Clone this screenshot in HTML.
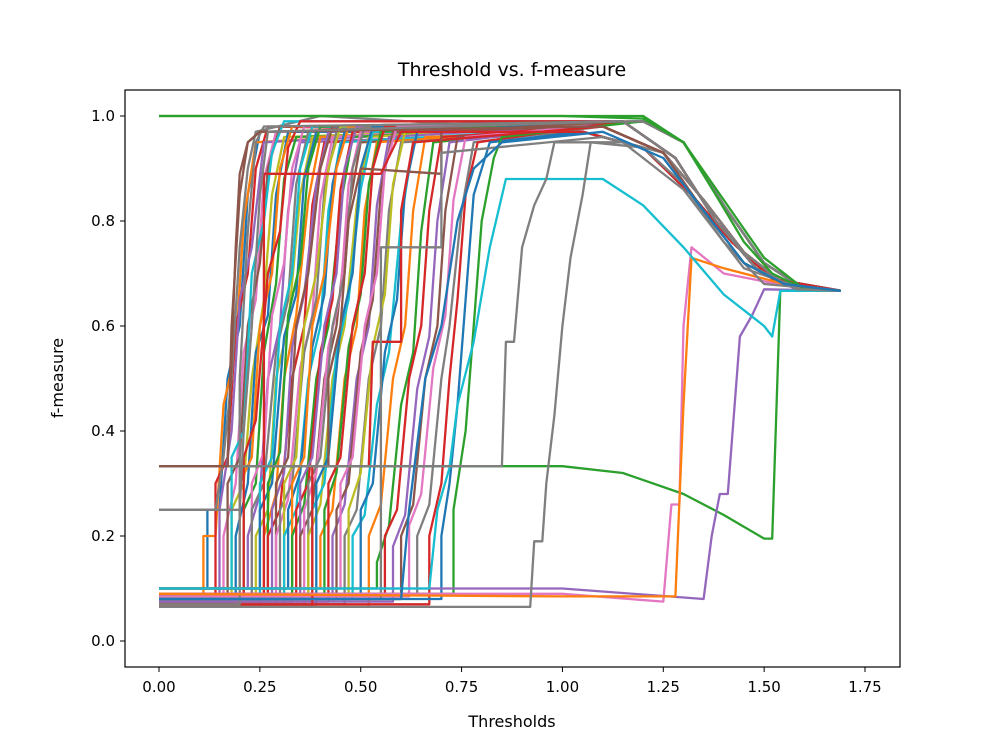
<!DOCTYPE html>
<html><head><meta charset="utf-8"><style>
body{margin:0;background:#fff;font-family:"Liberation Sans","DejaVu Sans",sans-serif}
svg text{font-family:"DejaVu Sans","Liberation Sans",sans-serif}
</style></head><body>
<svg id="chart" width="1000" height="750" viewBox="0 0 1000 750" xmlns="http://www.w3.org/2000/svg">
<rect width="1000" height="750" fill="#fff"/>
<text x="512" y="76" font-size="19" text-anchor="middle">Threshold vs. f-measure</text>
<g id="lines"></g>
<rect x="125" y="90" width="775" height="577" fill="none" stroke="#000" stroke-width="1.2"/>
<g id="xticks"></g>
<g id="yticks"></g>
<text x="512" y="727" font-size="16" text-anchor="middle">Thresholds</text>
<text transform="translate(63,378) rotate(-90)" font-size="16" text-anchor="middle">f-measure</text>
</svg>
<script>
const xTickValues=[0,0.25,0.5,0.75,1.0,1.25,1.5,1.75];
const xTickLabels=["0.00","0.25","0.50","0.75","1.00","1.25","1.50","1.75"];
const yTickValues=[0,0.2,0.4,0.6,0.8,1.0];
const yTickLabels=["0.0","0.2","0.4","0.6","0.8","1.0"];
const colors=["#1f77b4","#ff7f0e","#2ca02c","#d62728","#9467bd","#8c564b","#e377c2","#7f7f7f","#bcbd22","#17becf"];
// dense group: pairs of x,y
const densePoints=[
[0,0.1,0.12,0.1,0.12,0.25,0.15,0.25,0.17,0.5,0.2,0.6,0.22,0.85,0.25,0.97,1.1,0.98,1.25,0.93,1.35,0.84,1.45,0.74,1.55,0.68,1.69,0.667],
[0,0.09,0.11,0.09,0.11,0.2,0.14,0.2,0.16,0.45,0.19,0.55,0.21,0.8,0.24,0.95,1.15,0.99,1.28,0.92,1.38,0.8,1.48,0.71,1.58,0.67,1.69,0.667],
[0,0.08,0.14,0.08,0.14,0.3,0.17,0.35,0.19,0.6,0.22,0.7,0.24,0.9,0.27,0.98,1.05,0.97,1.2,0.94,1.32,0.85,1.42,0.76,1.52,0.69,1.69,0.667],
[0,0.085,0.15,0.085,0.15,0.25,0.18,0.4,0.2,0.65,0.23,0.75,0.26,0.95,1.2,0.99,1.3,0.95,1.4,0.83,1.5,0.72,1.6,0.67,1.69,0.667],
[0,0.333,0.17,0.333,0.18,0.6,0.2,0.85,0.22,0.95,0.25,0.97,1.1,0.98,1.25,0.93,1.35,0.84,1.45,0.74,1.55,0.68,1.69,0.667],
[0,0.09,0.16,0.09,0.16,0.2,0.19,0.3,0.21,0.55,0.24,0.65,0.26,0.88,0.29,0.97,1.15,0.99,1.28,0.92,1.38,0.8,1.48,0.71,1.58,0.67,1.69,0.667],
[0,0.25,0.14,0.25,0.16,0.35,0.18,0.5,0.2,0.75,0.22,0.9,0.24,0.97,0.4,1.0,1.05,0.97,1.2,0.94,1.32,0.85,1.42,0.76,1.52,0.69,1.69,0.667],
[0,0.07,0.17,0.07,0.17,0.3,0.2,0.35,0.22,0.6,0.25,0.72,0.27,0.9,0.3,0.98,1.2,0.99,1.3,0.95,1.4,0.83,1.5,0.72,1.6,0.67,1.69,0.667],
[0,0.065,0.18,0.065,0.18,0.25,0.21,0.3,0.23,0.5,0.26,0.65,0.28,0.85,0.31,0.96,1.1,0.98,1.25,0.93,1.35,0.84,1.45,0.74,1.55,0.68,1.69,0.667],
[0,0.1,0.18,0.1,0.18,0.35,0.21,0.4,0.23,0.7,0.26,0.8,0.28,0.93,0.31,0.99,1.15,0.99,1.28,0.92,1.38,0.8,1.48,0.71,1.58,0.67,1.69,0.667],
[0,0.075,0.19,0.075,0.19,0.2,0.22,0.3,0.24,0.55,0.27,0.62,0.29,0.85,0.32,0.97,1.05,0.97,1.2,0.94,1.32,0.85,1.42,0.76,1.52,0.69,1.69,0.667],
[0,0.09,0.2,0.09,0.2,0.3,0.23,0.35,0.25,0.6,0.28,0.7,0.3,0.9,0.33,0.98,1.2,0.99,1.3,0.95,1.4,0.83,1.5,0.72,1.6,0.67,1.69,0.667],
[0,0.08,0.21,0.08,0.21,0.25,0.24,0.3,0.26,0.55,0.29,0.68,0.31,0.88,0.34,0.96,1.1,0.98,1.25,0.93,1.35,0.84,1.45,0.74,1.55,0.68,1.69,0.667],
[0,0.085,0.21,0.085,0.21,0.35,0.24,0.42,0.27,0.7,0.3,0.78,0.32,0.94,0.35,0.99,1.15,0.99,1.28,0.92,1.38,0.8,1.48,0.71,1.58,0.67,1.69,0.667],
[0,0.1,0.22,0.1,0.22,0.2,0.25,0.28,0.27,0.5,0.3,0.6,0.32,0.82,0.35,0.95,1.05,0.97,1.2,0.94,1.32,0.85,1.42,0.76,1.52,0.69,1.69,0.667],
[0,0.07,0.23,0.07,0.23,0.3,0.26,0.36,0.28,0.62,0.31,0.72,0.33,0.9,0.36,0.98,1.2,0.99,1.3,0.95,1.4,0.83,1.5,0.72,1.6,0.67,1.69,0.667],
[0,0.09,0.23,0.09,0.23,0.25,0.26,0.3,0.29,0.55,0.32,0.65,0.34,0.87,0.37,0.97,1.1,0.98,1.25,0.93,1.35,0.84,1.45,0.74,1.55,0.68,1.69,0.667],
[0,0.08,0.24,0.08,0.24,0.2,0.27,0.25,0.29,0.5,0.32,0.6,0.35,0.85,0.38,0.96,1.15,0.99,1.28,0.92,1.38,0.8,1.48,0.71,1.58,0.67,1.69,0.667],
[0,0.065,0.25,0.065,0.25,0.3,0.28,0.35,0.3,0.6,0.33,0.7,0.35,0.9,0.38,0.98,1.05,0.97,1.2,0.94,1.32,0.85,1.42,0.76,1.52,0.69,1.69,0.667],
[0,0.1,0.25,0.1,0.25,0.25,0.28,0.3,0.31,0.58,0.34,0.66,0.36,0.88,0.39,0.97,1.2,0.99,1.3,0.95,1.4,0.83,1.5,0.72,1.6,0.67,1.69,0.667],
[0,0.075,0.26,0.075,0.26,0.2,0.29,0.28,0.31,0.5,0.34,0.62,0.37,0.84,0.4,0.96,1.1,0.98,1.25,0.93,1.35,0.84,1.45,0.74,1.55,0.68,1.69,0.667],
[0,0.09,0.27,0.09,0.27,0.3,0.3,0.36,0.32,0.62,0.35,0.72,0.37,0.9,0.4,0.98,1.15,0.99,1.28,0.92,1.38,0.8,1.48,0.71,1.58,0.67,1.69,0.667],
[0,0.085,0.27,0.085,0.27,0.2,0.3,0.25,0.33,0.5,0.36,0.6,0.38,0.83,0.41,0.95,1.05,0.97,1.2,0.94,1.32,0.85,1.42,0.76,1.52,0.69,1.69,0.667],
[0,0.08,0.28,0.08,0.28,0.25,0.31,0.32,0.33,0.56,0.36,0.66,0.39,0.87,0.42,0.97,1.2,0.99,1.3,0.95,1.4,0.83,1.5,0.72,1.6,0.67,1.69,0.667],
[0,0.1,0.29,0.1,0.29,0.3,0.32,0.35,0.34,0.6,0.37,0.7,0.4,0.9,0.43,0.98,1.1,0.98,1.25,0.93,1.35,0.84,1.45,0.74,1.55,0.68,1.69,0.667],
[0,0.07,0.29,0.07,0.29,0.2,0.32,0.27,0.35,0.52,0.38,0.62,0.4,0.84,0.43,0.96,1.15,0.99,1.28,0.92,1.38,0.8,1.48,0.71,1.58,0.67,1.69,0.667],
[0,0.09,0.3,0.09,0.3,0.25,0.33,0.3,0.36,0.55,0.39,0.65,0.41,0.86,0.44,0.97,1.05,0.97,1.2,0.94,1.32,0.85,1.42,0.76,1.52,0.69,1.69,0.667],
[0,0.08,0.31,0.08,0.31,0.3,0.34,0.35,0.36,0.6,0.39,0.7,0.42,0.9,0.45,0.98,1.2,0.99,1.3,0.95,1.4,0.83,1.5,0.72,1.6,0.67,1.69,0.667],
[0,0.065,0.31,0.065,0.31,0.2,0.34,0.25,0.37,0.5,0.4,0.6,0.42,0.82,0.45,0.95,1.1,0.98,1.25,0.93,1.35,0.84,1.45,0.74,1.55,0.68,1.69,0.667],
[0,0.1,0.32,0.1,0.32,0.25,0.35,0.32,0.38,0.56,0.41,0.66,0.43,0.87,0.46,0.97,1.15,0.99,1.28,0.92,1.38,0.8,1.48,0.71,1.58,0.67,1.69,0.667],
[0,0.085,0.33,0.085,0.33,0.3,0.36,0.35,0.38,0.6,0.41,0.7,0.44,0.9,0.47,0.98,1.05,0.97,1.2,0.94,1.32,0.85,1.42,0.76,1.52,0.69,1.69,0.667],
[0,0.075,0.33,0.075,0.33,0.2,0.36,0.26,0.39,0.5,0.42,0.6,0.45,0.83,0.48,0.96,1.2,0.99,1.3,0.95,1.4,0.83,1.5,0.72,1.6,0.67,1.69,0.667],
[0,0.09,0.34,0.09,0.34,0.25,0.37,0.3,0.4,0.55,0.43,0.65,0.45,0.86,0.48,0.97,1.1,0.98,1.25,0.93,1.35,0.84,1.45,0.74,1.55,0.68,1.69,0.667],
[0,0.08,0.35,0.08,0.35,0.3,0.38,0.35,0.41,0.6,0.44,0.7,0.46,0.9,0.49,0.98,1.15,0.99,1.28,0.92,1.38,0.8,1.48,0.71,1.58,0.67,1.69,0.667],
[0,0.1,0.35,0.1,0.35,0.2,0.38,0.25,0.41,0.5,0.44,0.6,0.47,0.82,0.5,0.95,1.05,0.97,1.2,0.94,1.32,0.85,1.42,0.76,1.52,0.69,1.69,0.667],
[0,0.07,0.36,0.07,0.36,0.25,0.39,0.32,0.42,0.56,0.45,0.66,0.47,0.87,0.5,0.97,1.2,0.99,1.3,0.95,1.4,0.83,1.5,0.72,1.6,0.67,1.69,0.667],
[0,0.09,0.37,0.09,0.37,0.3,0.4,0.35,0.43,0.6,0.46,0.7,0.48,0.9,0.51,0.98,1.1,0.98,1.25,0.93,1.35,0.84,1.45,0.74,1.55,0.68,1.69,0.667],
[0,0.085,0.37,0.085,0.37,0.2,0.4,0.26,0.43,0.5,0.46,0.6,0.49,0.83,0.52,0.96,1.15,0.99,1.28,0.92,1.38,0.8,1.48,0.71,1.58,0.67,1.69,0.667],
[0,0.08,0.38,0.08,0.38,0.25,0.41,0.3,0.44,0.55,0.47,0.65,0.5,0.86,0.53,0.97,1.05,0.97,1.2,0.94,1.32,0.85,1.42,0.76,1.52,0.69,1.69,0.667],
[0,0.065,0.39,0.065,0.39,0.3,0.42,0.35,0.45,0.6,0.48,0.7,0.5,0.9,0.53,0.98,1.2,0.99,1.3,0.95,1.4,0.83,1.5,0.72,1.6,0.67,1.69,0.667],
[0,0.1,0.4,0.1,0.4,0.2,0.43,0.25,0.46,0.5,0.49,0.6,0.51,0.82,0.54,0.95,1.1,0.98,1.25,0.93,1.35,0.84,1.45,0.74,1.55,0.68,1.69,0.667],
[0,0.09,0.41,0.09,0.41,0.25,0.44,0.32,0.47,0.56,0.5,0.66,0.52,0.87,0.55,0.97,1.15,0.99,1.28,0.92,1.38,0.8,1.48,0.71,1.58,0.67,1.69,0.667],
[0,0.075,0.42,0.075,0.42,0.3,0.45,0.35,0.48,0.6,0.51,0.7,0.53,0.9,0.56,0.98,1.05,0.97,1.2,0.94,1.32,0.85,1.42,0.76,1.52,0.69,1.69,0.667],
[0,0.085,0.43,0.085,0.43,0.2,0.46,0.26,0.49,0.5,0.52,0.6,0.54,0.83,0.57,0.96,1.2,0.99,1.3,0.95,1.4,0.83,1.5,0.72,1.6,0.67,1.69,0.667],
[0,0.08,0.44,0.08,0.44,0.25,0.47,0.3,0.5,0.55,0.53,0.65,0.55,0.86,0.58,0.97,1.1,0.98,1.25,0.93,1.35,0.84,1.45,0.74,1.55,0.68,1.69,0.667],
[0,0.1,0.45,0.1,0.45,0.3,0.48,0.35,0.51,0.6,0.54,0.7,0.56,0.9,0.59,0.98,1.15,0.99,1.28,0.92,1.38,0.8,1.48,0.71,1.58,0.67,1.69,0.667],
[0,0.07,0.46,0.07,0.46,0.2,0.49,0.25,0.52,0.5,0.55,0.6,0.57,0.82,0.6,0.95,1.05,0.97,1.2,0.94,1.32,0.85,1.42,0.76,1.52,0.69,1.69,0.667],
[0,0.09,0.47,0.09,0.47,0.25,0.5,0.32,0.53,0.56,0.56,0.66,0.58,0.87,0.61,0.97,1.2,0.99,1.3,0.95,1.4,0.83,1.5,0.72,1.6,0.67,1.69,0.667],
[0,0.08,0.48,0.08,0.48,0.2,0.51,0.24,0.54,0.45,0.57,0.55,0.6,0.8,0.63,0.95,1.1,0.98,1.25,0.93,1.35,0.84,1.45,0.74,1.55,0.68,1.69,0.667],
[0,0.085,0.5,0.085,0.5,0.25,0.53,0.3,0.56,0.55,0.59,0.65,0.61,0.86,0.64,0.97,1.15,0.99,1.28,0.92,1.38,0.8,1.48,0.71,1.58,0.67,1.69,0.667],
[0,0.065,0.52,0.065,0.52,0.2,0.55,0.26,0.58,0.5,0.61,0.6,0.63,0.82,0.66,0.96,1.05,0.97,1.2,0.94,1.32,0.85,1.42,0.76,1.52,0.69,1.69,0.667],
[0,0.1,0.54,0.1,0.54,0.15,0.57,0.22,0.6,0.45,0.63,0.55,0.65,0.78,0.68,0.95,1.2,0.99,1.3,0.95,1.4,0.83,1.5,0.72,1.6,0.67,1.69,0.667],
[0,0.09,0.56,0.09,0.56,0.2,0.59,0.25,0.62,0.5,0.65,0.6,0.67,0.82,0.7,0.96,1.1,0.98,1.25,0.93,1.35,0.84,1.45,0.74,1.55,0.68,1.69,0.667],
[0,0.075,0.58,0.075,0.58,0.18,0.61,0.24,0.64,0.48,0.67,0.58,0.69,0.8,0.72,0.95,1.15,0.99,1.28,0.92,1.38,0.8,1.48,0.71,1.58,0.67,1.69,0.667],
[0,0.08,0.6,0.08,0.6,0.2,0.63,0.26,0.66,0.5,0.69,0.6,0.71,0.82,0.74,0.96,1.05,0.97,1.2,0.94,1.32,0.85,1.42,0.76,1.52,0.69,1.69,0.667],
[0,0.085,0.62,0.085,0.62,0.22,0.65,0.28,0.68,0.52,0.71,0.62,0.73,0.84,0.76,0.96,1.2,0.99,1.3,0.95,1.4,0.83,1.5,0.72,1.6,0.67,1.69,0.667],
[0,0.09,0.64,0.09,0.64,0.2,0.67,0.26,0.7,0.5,0.72,0.6,0.75,0.82,0.78,0.95,1.1,0.98,1.25,0.93,1.35,0.84,1.45,0.74,1.55,0.68,1.69,0.667],
[0,0.07,0.67,0.07,0.67,0.2,0.7,0.3,0.72,0.5,0.74,0.65,0.76,0.85,0.79,0.95,1.15,0.99,1.28,0.92,1.38,0.8,1.48,0.71,1.58,0.67,1.69,0.667],
[0,0.08,0.7,0.08,0.7,0.2,0.72,0.3,0.74,0.45,0.76,0.65,0.78,0.85,0.82,0.95,1.05,0.97,1.2,0.94,1.32,0.85,1.42,0.76,1.52,0.69,1.69,0.667],
[0,0.09,0.73,0.09,0.73,0.25,0.76,0.4,0.78,0.6,0.8,0.8,0.83,0.92,0.85,0.96,1.2,0.99,1.3,0.95,1.4,0.83,1.5,0.72,1.6,0.67,1.69,0.667],
[0,0.065,0.38,0.065,0.38,0.333,0.52,0.333,0.53,0.57,0.6,0.57,0.6,0.82,0.63,0.95,1.1,0.98,1.25,0.93,1.35,0.84,1.45,0.74,1.55,0.68,1.69,0.667],
[0,0.333,0.42,0.333,0.42,0.5,0.45,0.6,0.47,0.8,0.5,0.9,0.7,0.89,0.7,0.97,1.15,0.99,1.28,0.92,1.38,0.8,1.48,0.71,1.58,0.67,1.69,0.667],
[0,0.07,0.2,0.07,0.2,0.5,0.22,0.78,0.24,0.95,0.26,0.98,1.2,0.99,1.3,0.95,1.4,0.83,1.5,0.72,1.6,0.67,1.69,0.667],
[0,0.09,0.26,0.09,0.26,0.89,0.4,0.89,0.55,0.89,0.6,0.97,1.05,0.97,1.2,0.94,1.32,0.85,1.42,0.76,1.52,0.69,1.69,0.667],
[0,0.08,0.55,0.08,0.55,0.75,0.7,0.75,0.7,0.93,1.1,0.96,1.25,0.93,1.35,0.84,1.45,0.74,1.55,0.68,1.69,0.667],
[0,1.0,1.2,1.0,1.3,0.95,1.38,0.85,1.45,0.76,1.52,0.7,1.6,0.67,1.69,0.667]
];
const denseColorIdx=[0,1,3,4,5,6,7,5,8,9,0,1,2,3,4,6,7,8,9,0,1,2,3,4,5,6,7,8,9,0,1,2,3,4,5,6,7,8,9,0,1,2,3,4,5,6,7,8,9,0,1,2,3,4,5,6,7,3,0,2,3,5,7,3,7,2];
// special outlier series
const specialPoints=[
[0,0.333,0.6,0.333,1.0,0.333,1.15,0.32,1.3,0.28,1.4,0.24,1.5,0.195,1.52,0.195,1.54,0.667,1.69,0.667],
[0,0.1,1.0,0.1,1.35,0.08,1.37,0.2,1.39,0.28,1.41,0.28,1.44,0.58,1.47,0.62,1.5,0.67,1.69,0.667],
[0,0.09,1.0,0.09,1.25,0.075,1.27,0.26,1.29,0.26,1.3,0.6,1.32,0.75,1.4,0.7,1.6,0.67,1.69,0.667],
[0,0.09,1.0,0.085,1.28,0.085,1.3,0.45,1.32,0.73,1.4,0.71,1.6,0.67,1.69,0.667],
[0,0.1,0.62,0.1,0.67,0.1,0.69,0.25,0.72,0.33,0.74,0.45,0.78,0.57,0.82,0.75,0.86,0.88,1.1,0.88,1.2,0.83,1.3,0.75,1.4,0.66,1.5,0.6,1.52,0.58,1.54,0.667,1.69,0.667],
[0,0.065,0.92,0.065,0.93,0.19,0.95,0.19,0.96,0.3,0.98,0.43,1.0,0.6,1.02,0.73,1.05,0.85,1.07,0.95,1.2,0.94,1.3,0.87,1.4,0.76,1.5,0.68,1.69,0.667],
[0,0.333,0.85,0.333,0.86,0.57,0.88,0.57,0.9,0.75,0.93,0.83,0.96,0.88,0.98,0.95,1.15,0.95,1.3,0.86,1.45,0.71,1.6,0.67,1.69,0.667],
[0,1.0,0.4,1.0,1.0,1.0,1.2,0.995,1.3,0.95,1.4,0.84,1.5,0.73,1.6,0.67,1.69,0.667],
[0,0.333,0.17,0.333,0.19,0.75,0.2,0.89,0.22,0.95,0.25,0.97,1.1,0.98,1.25,0.93,1.35,0.82,1.45,0.72,1.55,0.68,1.69,0.667],
[0,0.25,0.2,0.25,0.21,0.4,0.23,0.6,0.25,0.85,0.27,0.97,1.15,0.99,1.28,0.92,1.38,0.8,1.48,0.71,1.58,0.67,1.69,0.667],
[0,0.08,0.6,0.08,0.62,0.25,0.66,0.5,0.7,0.6,0.74,0.8,0.78,0.9,0.85,0.95,1.1,0.97,1.25,0.92,1.35,0.82,1.45,0.72,1.55,0.68,1.69,0.667]
];
const specialColorIdx=[2,4,6,1,9,7,7,2,5,7,0];
const X0=159, XS=403.43, Y0=641, YS=525;
function xScale(v){return X0+v*XS;}
function yScale(v){return Y0-v*YS;}
const NS="http://www.w3.org/2000/svg";
const lg=document.getElementById('lines');
function drawSeries(pts,col){
  let d="";
  for(let k=0;k<pts.length;k+=2){d+=(k?"L":"M")+xScale(pts[k]).toFixed(1)+","+yScale(pts[k+1]).toFixed(1);}
  const p=document.createElementNS(NS,'path');
  p.setAttribute('d',d);
  p.setAttribute('fill','none');
  p.setAttribute('stroke',col);
  p.setAttribute('stroke-width','2.3');
  p.setAttribute('stroke-linejoin','round');
  
  
  lg.appendChild(p);
}
densePoints.forEach((pts,i)=>drawSeries(pts,colors[denseColorIdx[i%denseColorIdx.length]]));
specialPoints.forEach((pts,i)=>drawSeries(pts,colors[specialColorIdx[i]]));
const xg=document.getElementById('xticks');
xTickValues.forEach((v,i)=>{
  const x=xScale(v);
  const l=document.createElementNS(NS,'line');
  l.setAttribute('x1',x);l.setAttribute('x2',x);l.setAttribute('y1',667);l.setAttribute('y2',672);
  l.setAttribute('stroke','#000');
  
  
  xg.appendChild(l);
  const t=document.createElementNS(NS,'text');
  t.setAttribute('x',x);t.setAttribute('y',692);t.setAttribute('font-size','15');t.setAttribute('text-anchor','middle');
  t.textContent=xTickLabels[i];
  
  
  xg.appendChild(t);
});
const yg=document.getElementById('yticks');
yTickValues.forEach((v,i)=>{
  const y=yScale(v);
  const l=document.createElementNS(NS,'line');
  l.setAttribute('x1',120);l.setAttribute('x2',125);l.setAttribute('y1',y);l.setAttribute('y2',y);
  l.setAttribute('stroke','#000');
  
  
  yg.appendChild(l);
  const t=document.createElementNS(NS,'text');
  t.setAttribute('x',115);t.setAttribute('y',y+5);t.setAttribute('font-size','15');t.setAttribute('text-anchor','end');
  t.textContent=yTickLabels[i];
  
  
  yg.appendChild(t);
});
</script>
</body></html>
